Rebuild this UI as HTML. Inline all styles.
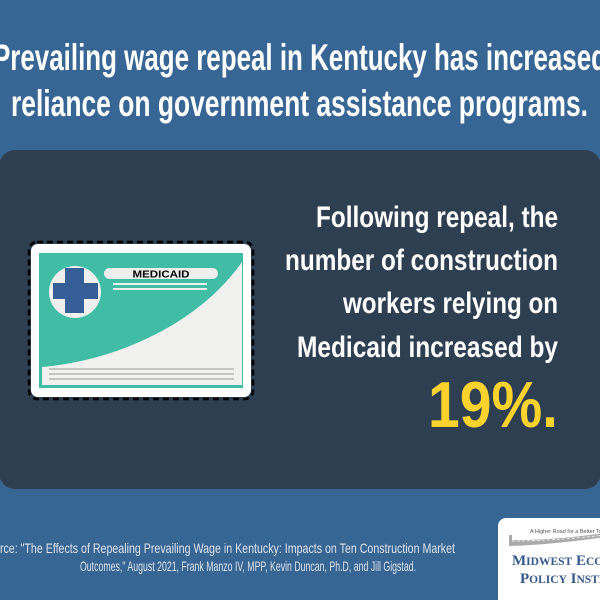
<!DOCTYPE html>
<html><head><meta charset="utf-8">
<style>
html,body{margin:0;padding:0;background:#376695;}
svg{display:block;}
.c{font-family:"Liberation Sans Narrow","Liberation Sans",sans-serif;}
</style></head>
<body>
<svg width="600" height="600" viewBox="0 0 600 600" xmlns="http://www.w3.org/2000/svg">
<rect x="0" y="0" width="600" height="600" fill="#376695"/>
<!-- title -->
<text class="c" x="-7" y="70" font-size="37" font-weight="bold" fill="#ffffff" textLength="614" lengthAdjust="spacingAndGlyphs">Prevailing wage repeal in Kentucky has increased</text>
<text class="c" x="11" y="116" font-size="37" font-weight="bold" fill="#ffffff" textLength="577" lengthAdjust="spacingAndGlyphs">reliance on government assistance programs.</text>
<!-- panel -->
<rect x="-1" y="150" width="602" height="339" rx="16" fill="#2f3f52"/>
<!-- card -->
<rect x="29" y="242" width="224" height="157" rx="8" fill="none" stroke="#000" stroke-width="2.5" stroke-dasharray="6 4"/>
<rect x="31" y="244" width="220" height="153" rx="7" fill="#ffffff"/>
<rect x="39" y="253" width="204" height="135" fill="#41bda6"/>
<path d="M42 367 C120 360 200 322 242 262 L242 385 L42 385 Z" fill="#f1f1f0"/>
<rect x="49" y="368" width="185" height="2" fill="#c4c4c4"/>
<rect x="49" y="373" width="185" height="2" fill="#c4c4c4"/>
<rect x="49" y="378" width="185" height="2" fill="#c4c4c4"/>
<circle cx="75" cy="292" r="26" fill="#efefee"/>
<rect x="65" y="268" width="19" height="45" fill="#355f96"/>
<rect x="53" y="283" width="45" height="16" fill="#355f96"/>
<rect x="104" y="268" width="114" height="11" rx="5.5" fill="#efefee"/>
<text x="161" y="277.5" font-family="Liberation Sans, sans-serif" font-size="10" font-weight="bold" fill="#000" text-anchor="middle" textLength="57" lengthAdjust="spacingAndGlyphs">MEDICAID</text>
<rect x="113" y="283" width="94" height="2" fill="#efefee"/>
<rect x="113" y="288" width="94" height="2" fill="#efefee"/>
<!-- panel text -->
<g class="c" font-size="30" font-weight="bold" fill="#ffffff" text-anchor="end">
<text x="558" y="227" textLength="242" lengthAdjust="spacingAndGlyphs">Following repeal, the</text>
<text x="558" y="270" textLength="273" lengthAdjust="spacingAndGlyphs">number of construction</text>
<text x="558" y="313" textLength="215" lengthAdjust="spacingAndGlyphs">workers relying on</text>
<text x="558" y="357" textLength="261" lengthAdjust="spacingAndGlyphs">Medicaid increased by</text>
</g>
<text class="c" x="558" y="427" font-size="65" font-weight="bold" fill="#fcd22d" text-anchor="end" textLength="130" lengthAdjust="spacingAndGlyphs">19%.</text>
<!-- footer -->
<g class="c" font-size="14" fill="#dde3ea">
<text x="-19" y="553" textLength="474" lengthAdjust="spacingAndGlyphs">Source: "The Effects of Repealing Prevailing Wage in Kentucky: Impacts on Ten Construction Market</text>
<text x="80" y="571" textLength="336" lengthAdjust="spacingAndGlyphs">Outcomes," August 2021, Frank Manzo IV, MPP, Kevin Duncan, Ph.D, and Jill Gigstad.</text>
</g>
<!-- logo -->
<rect x="498" y="518" width="120" height="100" rx="8" fill="#ffffff"/>
<text x="530" y="533" font-family="Liberation Sans, sans-serif" font-size="5.5" fill="#555">A Higher Road for a Better Tomorrow</text>
<path d="M509 535 L512 535 L512 540 C540 540 570 538 605 533 L605 537 C570 542 540 545 509 546 Z" fill="#aaaaaa"/>
<path d="M512 541 C540 541 570 539 605 535" stroke="#ffffff" stroke-width="0.8" stroke-dasharray="3 2" fill="none"/>
<g font-family="Liberation Serif, serif" fill="#35598a" font-weight="bold">
<text x="512" y="565" font-size="15">M<tspan font-size="11.5">IDWEST</tspan> E<tspan font-size="11.5">CONOMIC</tspan></text>
<text x="520" y="583" font-size="15">P<tspan font-size="11.5">OLICY</tspan> I<tspan font-size="11.5">NSTITUTE</tspan></text>
</g>
</svg>
</body></html>
